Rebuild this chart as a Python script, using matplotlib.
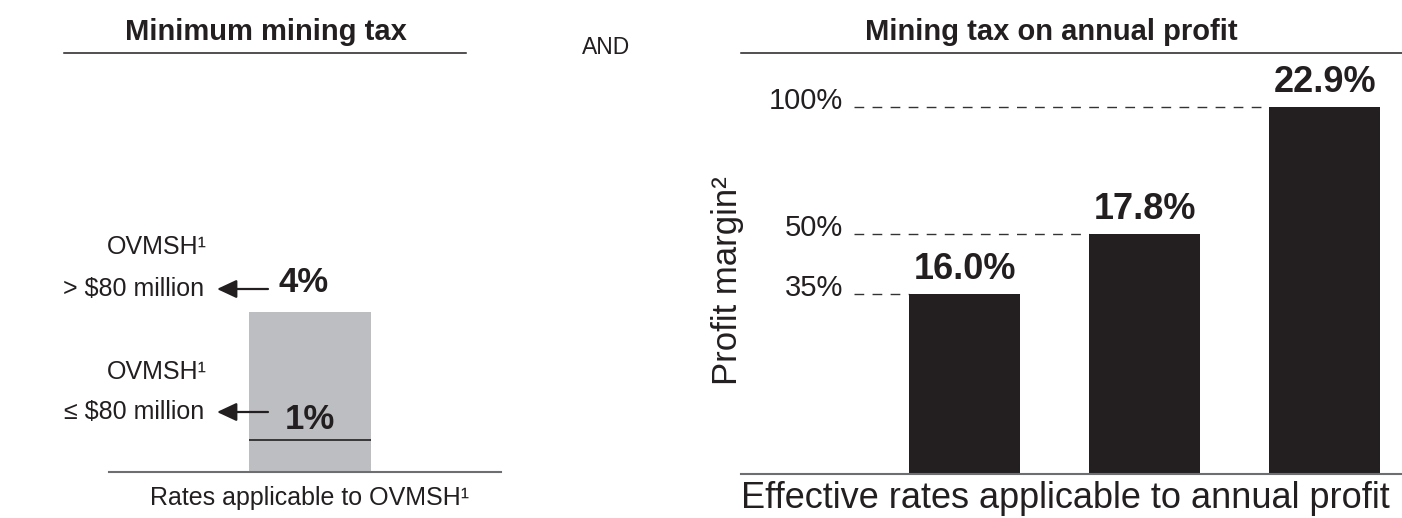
import numpy as np
import matplotlib.pyplot as plt
from matplotlib.patches import FancyArrowPatch

plt.rcParams['font.family'] = ['Liberation Sans', 'DejaVu Sans']

ink = '#231f20'
W, H = 1402, 518

# minimum mining tax (% of OVMSH)
ovmsh_rates = [4, 1]
ovmsh_labels = ['4%', '1%']
ovmsh_top = ['OVMSH\u00b9', 'OVMSH\u00b9']
ovmsh_bottom = ['> $80 million', '\u2264 $80 million']

# mining tax on annual profit
margins = [35, 50, 100]
effective_rates = [16.0, 17.8, 22.9]

# the value axes are not drawn to a linear scale
rate_knots = [0, 1, 4, 100]
rate_pos = [0, 0.8, 4, 100]
margin_knots = [0, 35, 50, 100, 1000]
margin_pos = [0, 49.0, 65.4, 100, 1000]


def piecewise(knots, pos):
    fwd = lambda v: np.interp(v, knots, pos)
    inv = lambda v: np.interp(v, pos, knots)
    return fwd, inv


def fx(px):
    return px / W


def fy(px):
    return 1 - px / H


def strip(ax):
    for s in ['top', 'right', 'left']:
        ax.spines[s].set_visible(False)
    ax.spines['bottom'].set_color('#6d6e71')
    ax.spines['bottom'].set_linewidth(1.5)
    ax.set_xticks([])
    ax.set_yticks([], minor=False)
    ax.set_yticks([], minor=True)


fig = plt.figure(figsize=(W / 100, H / 100), dpi=100)

# ---- left panel
ax1 = fig.add_axes([fx(109), fy(472), fx(392), 419 / H])
ax1.set_yscale('function', functions=piecewise(rate_knots, rate_pos))
ax1.set_xlim(0, 1)
ax1.set_ylim(0, 10.475)
bx, bw = 0.5128, 0.311
ax1.bar(bx, max(ovmsh_rates), width=bw, color='#bdbec2', zorder=1)
ax1.hlines(min(ovmsh_rates), bx - bw / 2, bx + bw / 2, color=ink, lw=1.2, zorder=2)
for r, lab, dx, dy in zip(ovmsh_rates, ovmsh_labels, [-4.5, 0], [14.5, 8]):
    ax1.annotate(lab, (bx, r), xytext=(dx, dy), textcoords='offset points',
                 ha='center', va='baseline', fontsize=25, fontweight='bold', color=ink)
strip(ax1)

# band descriptions with arrows pointing to the rates
for top, bot, y_top, y_bot in zip(ovmsh_top, ovmsh_bottom, [254, 379], [296, 419]):
    fig.text(fx(207), fy(y_top), top, ha='right', va='baseline', fontsize=18, color=ink)
    fig.text(fx(204), fy(y_bot), bot, ha='right', va='baseline', fontsize=18, color=ink)
    ay = y_bot - 7
    fig.add_artist(FancyArrowPatch(
        (fx(268), fy(ay)), (fx(217), fy(ay)), transform=fig.transFigure,
        arrowstyle='-|>,head_length=0.6,head_width=0.28', mutation_scale=20,
        color=ink, lw=1.6, shrinkA=0, shrinkB=0))

fig.text(fx(266), fy(40), 'Minimum mining tax', ha='center', va='baseline',
         fontsize=21, fontweight='bold', color=ink)
fig.add_artist(plt.Line2D([fx(64), fx(466)], [fy(53), fy(53)], color=ink, lw=1.1))
fig.text(fx(309), fy(505), 'Rates applicable to OVMSH\u00b9', ha='center', va='baseline',
         fontsize=18, color=ink)

fig.text(fx(606), fy(54), 'AND', ha='center', va='baseline', fontsize=16.5, color=ink)

# ---- right panel
ax2 = fig.add_axes([fx(741), fy(474), fx(661), 421 / H])
ax2.set_yscale('function', functions=piecewise(margin_knots, margin_pos))
ax2.set_xlim(-1.242, 2.43)
ax2.set_ylim(0, 114.7)
x = np.arange(len(margins))
bar_w = 0.62
ax2.bar(x, margins, width=bar_w, color=ink, zorder=2)

for xi, m, r in zip(x, margins, effective_rates):
    ax2.hlines(m, -0.614, xi - bar_w / 2, color='#333333', lw=1.0,
               linestyles=(0, (7, 6)), zorder=1)
    ax2.annotate(f'{m}%', (-0.675, m), xytext=(0, 4.5), textcoords='offset points',
                 ha='right', va='center', fontsize=21, color=ink)
    ax2.annotate(f'{r:.1f}%', (xi, m), xytext=(0, 11), textcoords='offset points',
                 ha='center', va='baseline', fontsize=26, fontweight='bold', color=ink)
strip(ax2)

fig.text(fx(727), fy(281), 'Profit margin\u00b2', rotation=90, ha='center', va='center',
         fontsize=25, color=ink)
fig.text(fx(1051), fy(40), 'Mining tax on annual profit', ha='center', va='baseline',
         fontsize=21, fontweight='bold', color=ink)
fig.add_artist(plt.Line2D([fx(741), fx(1402)], [fy(53), fy(53)], color=ink, lw=1.1))
fig.text(fx(1065), fy(508), 'Effective rates applicable to annual profit', ha='center',
         va='baseline', fontsize=26, color=ink)

fig.savefig('out.png', dpi=100)
